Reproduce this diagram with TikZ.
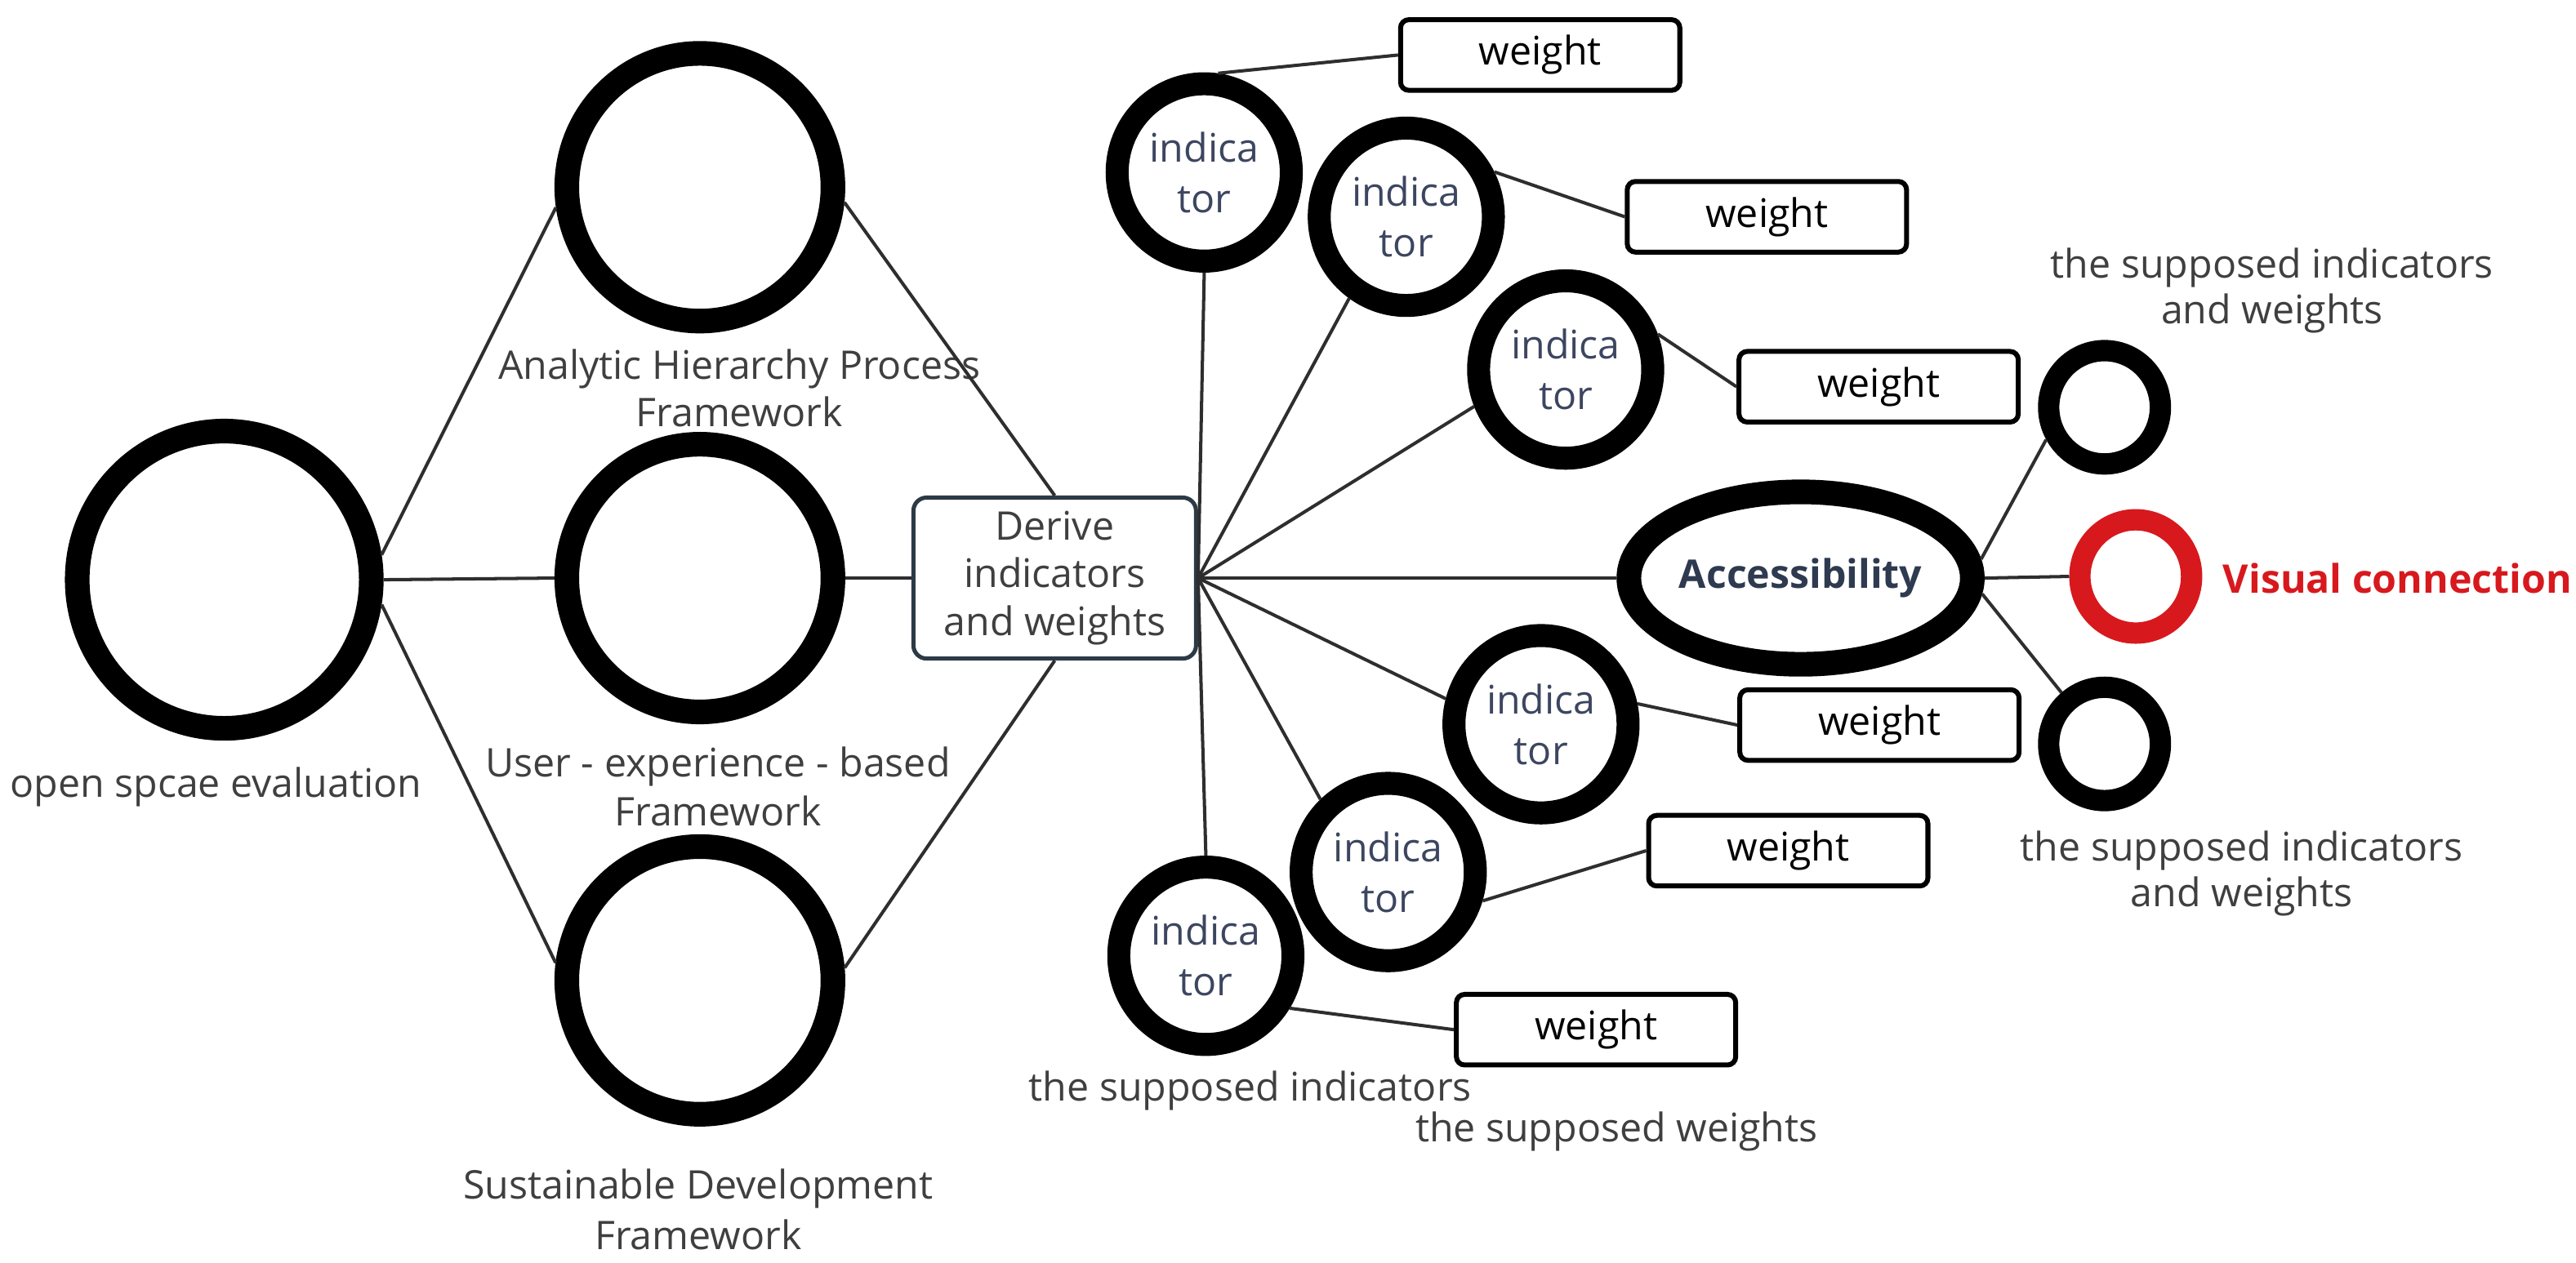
\documentclass[tikz,border=0pt]{standalone}
\usepackage{fontspec}
\setmainfont{Open Sans}
\usetikzlibrary{shapes.geometric}
\definecolor{connc}{HTML}{2E2E2E}
\definecolor{labelgray}{HTML}{3F3F3F}
\definecolor{indtext}{HTML}{3D4660}
\definecolor{acctext}{HTML}{2E3A4F}
\definecolor{boxedge}{HTML}{2C3A46}
\definecolor{visred}{HTML}{D7191E}
\begin{document}
\begin{tikzpicture}[x=1pt,y=-1pt,
  lbl/.style={font=\fontsize{24}{29}\selectfont, text=labelgray, align=center, inner sep=0pt},
  bigring/.style={draw=black, ellipse, line width=15pt, inner sep=0pt},
  indring/.style={draw=black, ellipse, line width=14pt, inner sep=0pt, minimum width=106pt, minimum height=108pt,
     font=\fontsize{24}{31}\selectfont, text=indtext, align=center},
  smallring/.style={draw=#1, ellipse, line width=13pt, inner sep=0pt, minimum width=68pt, minimum height=69pt},
  wbox/.style={draw=black, rectangle, rounded corners=5pt, line width=3pt, minimum width=170pt, minimum height=43pt,
     inner sep=0pt, font=\fontsize{24}{29}\selectfont, text=black},
  conn/.style={draw=connc, line width=2pt}
]
\useasboundingbox (0,0) rectangle (1568,769);

% left part
\node[bigring, minimum width=179pt, minimum height=181pt] (eval) at (136.5,353) {};
\node[lbl] (evallbl) at (131.5,479) {open spcae evaluation};

\node[bigring, minimum width=162pt, minimum height=163pt] (ahp) at (426,114) {};
\node[bigring, minimum width=162pt, minimum height=163pt] (ux) at (426,352) {};
\node[bigring, minimum width=162pt, minimum height=163pt] (sd) at (426,597) {};
\node[lbl] (ahplbl) at (450,236.5) {Analytic Hierarchy Process\\Framework};
\node[lbl, font=\fontsize{24}{30}\selectfont] (uxlbl) at (437,479) {User - experience - based\\Framework};
\node[lbl, font=\fontsize{24}{31}\selectfont] (sdlbl) at (425,736.5) {Sustainable Development\\Framework};

\node[draw=boxedge, line width=2.5pt, rounded corners=8pt, minimum width=172pt, minimum height=98pt,
      inner sep=0pt, align=center, font=\fontsize{24}{29}\selectfont, text=labelgray] (derive) at (642,352)
      {Derive\\indicators\\and weights};

% indicators
\node[indring] (ind1) at (733,105) {indica\\tor};
\node[indring] (ind2) at (856,132) {indica\\tor};
\node[indring] (ind3) at (953,225) {indica\\tor};
\node[indring] (ind4) at (938,441) {indica\\tor};
\node[indring] (ind5) at (845,531) {indica\\tor};
\node[indring] (ind6) at (734,582) {indica\\tor};

\node[draw=black, ellipse, line width=15pt, inner sep=0pt, minimum width=183pt, minimum height=105pt,
      font=\fontsize{24}{29}\selectfont\bfseries, text=acctext] (acc) at (1096,352) {Accessibility};

% weights
\node[wbox] (w1) at (937.5,33.5) {weight};
\node[wbox] (w2) at (1075.5,132) {weight};
\node[wbox] (w3) at (1143.5,235.5) {weight};
\node[wbox] (w4) at (1144,441.5) {weight};
\node[wbox] (w5) at (1088.5,518) {weight};
\node[wbox] (w6) at (971.5,627) {weight};

% right part
\node[smallring=black] (stop) at (1281,248) {};
\node[smallring=visred] (red) at (1300,351) {};
\node[smallring=black] (sbot) at (1281,453) {};
\node[lbl, font=\fontsize{24}{28}\selectfont] (toplbl) at (1383,177) {the supposed indicators\\and weights};
\node[lbl, font=\fontsize{24}{28}\selectfont] (botlbl) at (1364.5,532) {the supposed indicators\\and weights};
\node[inner sep=0pt, anchor=west, font=\fontsize{24}{29}\selectfont\bfseries, text=visred] (vislbl) at (1353,352) {Visual connection};

\node[lbl] (supind) at (761,664) {the supposed indicators};
\node[lbl] (supw) at (984,689) {the supposed weights};

% connectors
\draw[conn] (eval.9) -- (ahp.188);
\draw[conn] (eval.0) -- (ux.180);
\draw[conn] (eval.-9) -- (sd.173);
\draw[conn] (ahp.-6) -- (derive.north);
\draw[conn] (ux.0) -- (derive.west);
\draw[conn] (sd.5) -- (derive.south);

\draw[conn] (derive.east) -- (ind1.south);
\draw[conn] (derive.east) -- (ind2.235);
\draw[conn] (derive.east) -- (ind3.202);
\draw[conn] (derive.east) -- (acc.west);
\draw[conn] (derive.east) -- (ind4.165);
\draw[conn] (derive.east) -- (ind5.133);
\draw[conn] (derive.east) -- (ind6.north);

\draw[conn] (ind1.82) -- (w1.west);
\draw[conn] (ind2.27) -- (w2.west);
\draw[conn] (ind3.21) -- (w3.west);
\draw[conn] (ind4.12) -- (w4.west);
\draw[conn] (ind5.-17) -- (w5.west);
\draw[conn] (ind6.-32) -- (w6.west);

\draw[conn] (acc.6) -- (stop.209);
\draw[conn] (acc.east) -- (red.west);
\draw[conn] (acc.-5) -- (sbot.130);
\end{tikzpicture}
\end{document}
